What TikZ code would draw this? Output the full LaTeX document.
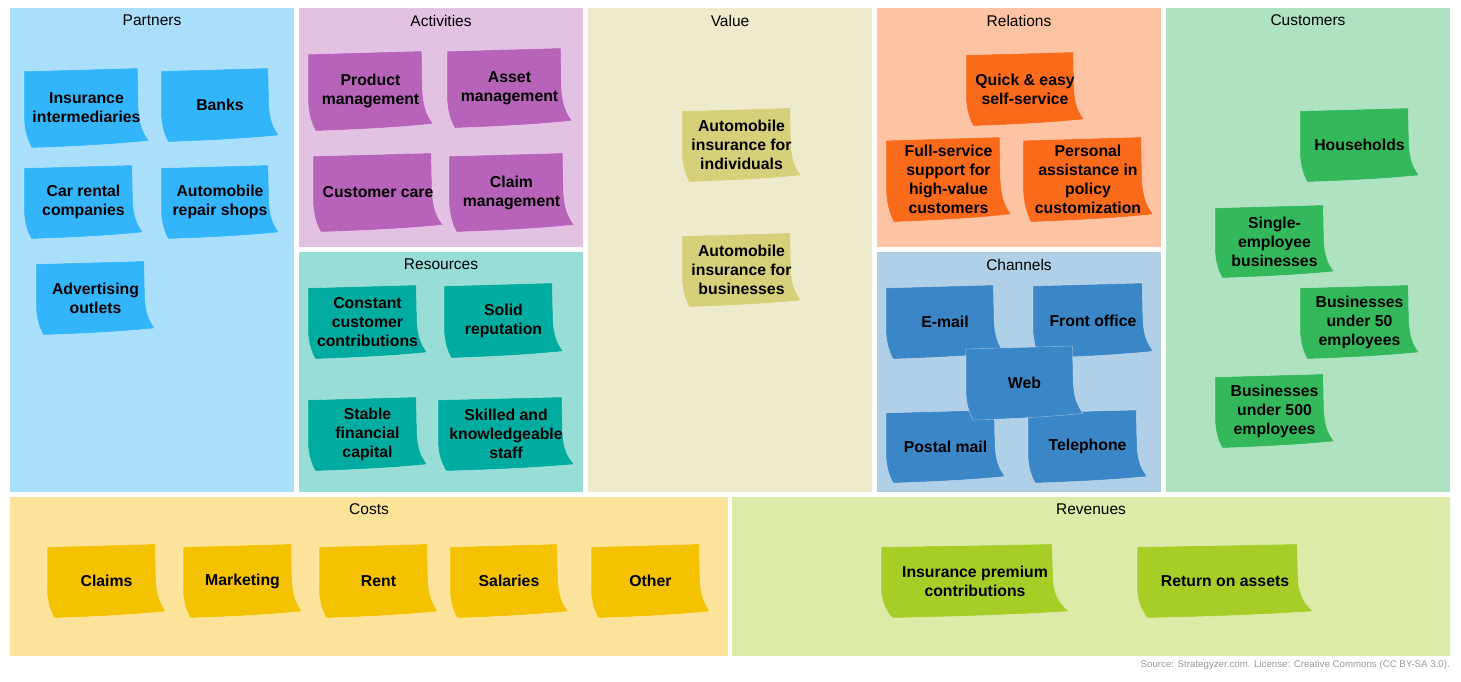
\documentclass[tikz,border=0pt]{standalone}
\usepackage{fontspec}
\setmainfont{Liberation Sans}
\definecolor{pA}{HTML}{AADFFB}\definecolor{nA}{HTML}{33B5FB}
\definecolor{pB}{HTML}{E3C1E3}\definecolor{nB}{HTML}{B763B9}
\definecolor{pC}{HTML}{99DDD7}\definecolor{nC}{HTML}{00ABA0}
\definecolor{pD}{HTML}{EEEACC}\definecolor{nD}{HTML}{D6D07A}
\definecolor{pE}{HTML}{FDC3A3}\definecolor{nE}{HTML}{F96A1B}
\definecolor{pF}{HTML}{B0D0E8}\definecolor{nF}{HTML}{3A86C7}
\definecolor{pG}{HTML}{AEE2C1}\definecolor{nG}{HTML}{33B85C}
\definecolor{pH}{HTML}{FBE49A}\definecolor{nH}{HTML}{F4C200}
\definecolor{pI}{HTML}{DCEBA8}\definecolor{nI}{HTML}{A6CE27}
\tikzset{
  ptitle/.style={font=\fontsize{15.5}{17}\selectfont, inner sep=0pt},
  notetext/.style={font=\fontsize{15.8}{19}\selectfont\bfseries, align=center, inner sep=0pt},
  noteshape/.style={draw=white, draw opacity=0.35, line width=0.6pt},
  srcnote/.style={font=\fontsize{9.7}{11}\selectfont, text=black!40, inner sep=0pt, anchor=east},
}
\newcommand\stickynote[7]{%
  \begin{scope}[shift={(#3,#4)}, xscale={#5-#3}, yscale={#6-#4}]
    \path[noteshape, fill=#2] (0,0.04) -- (0.91,0) -- (0.915,0.45)
      .. controls (0.92,0.7) and (0.95,0.8) .. (1,0.91)
      .. controls (0.7,0.96) and (0.35,0.985) .. (0.06,1)
      .. controls (0.02,0.88) and (0,0.75) .. (0,0.6) -- cycle;
  \end{scope}
  \node[notetext] (#1) at ({(#3+#5)/2},{(#4+#6)/2}) {#7};
}
\begin{document}
\begin{tikzpicture}[x=1pt,y=-1pt]
\useasboundingbox[fill=white] (0,0) rectangle (1461,681);
% panels
\fill[pA] (10,8) rectangle (294,492);
\fill[pB] (299,8) rectangle (583,247);
\fill[pC] (299,252) rectangle (583,492);
\fill[pD] (588,8) rectangle (872,492);
\fill[pE] (877,8) rectangle (1161,247);
\fill[pF] (877,252) rectangle (1161,492);
\fill[pG] (1166,8) rectangle (1450,492);
\fill[pH] (10,497) rectangle (728,656);
\fill[pI] (732,497) rectangle (1450,656);
% titles
\node[ptitle] (tPartners) at (152,20.5) {Partners};
\node[ptitle] (tActivities) at (441,20.5) {Activities};
\node[ptitle] (tValue) at (730,20.5) {Value};
\node[ptitle] (tRelations) at (1019,20.5) {Relations};
\node[ptitle] (tCustomers) at (1308,20.5) {Customers};
\node[ptitle] (tResources) at (441,264.5) {Resources};
\node[ptitle] (tChannels) at (1019,264.5) {Channels};
\node[ptitle] (tCosts) at (369,509.5) {Costs};
\node[ptitle] (tRevenues) at (1091,509.5) {Revenues};
% partners
\stickynote{pa1}{nA}{24}{68}{149}{148}{Insurance\\intermediaries}
\stickynote{pa2}{nA}{161}{68}{279}{142}{Banks}
\stickynote{pa3}{nA}{24}{165}{143}{239}{Car rental\\companies}
\stickynote{pa4}{nA}{161}{165}{279}{239}{Automobile\\repair shops}
\stickynote{pa5}{nA}{36}{261}{155}{335}{Advertising\\outlets}
% activities
\stickynote{ac1}{nB}{308}{51}{433}{131}{Product\\management}
\stickynote{ac2}{nB}{447}{48}{572}{128}{Asset\\management}
\stickynote{ac3}{nB}{313}{153}{443}{232}{Customer care}
\stickynote{ac4}{nB}{449}{153}{574}{232}{Claim\\management}
% resources
\stickynote{re1}{nC}{308}{285}{427}{359}{Constant\\customer\\contributions}
\stickynote{re2}{nC}{444}{283}{563}{358}{Solid\\reputation}
\stickynote{re3}{nC}{308}{397}{427}{471}{Stable\\financial\\capital}
\stickynote{re4}{nC}{438}{397}{574}{471}{Skilled and\\knowledgeable\\staff}
% value
\stickynote{va1}{nD}{682}{108}{801}{182}{Automobile\\insurance for\\individuals}
\stickynote{va2}{nD}{682}{233}{801}{307}{Automobile\\insurance for\\businesses}
% relations
\stickynote{rl1}{nE}{966}{52}{1084}{126}{Quick \& easy\\self-service}
\stickynote{rl2}{nE}{886}{137}{1011}{222}{Full-service\\support for\\high-value\\customers}
\stickynote{rl3}{nE}{1023}{137}{1153}{222}{Personal\\assistance in\\policy\\customization}
% channels
\stickynote{ch1}{nF}{886}{285}{1004}{359}{E-mail}
\stickynote{ch2}{nF}{1033}{283}{1153}{358}{Front office}
\stickynote{ch4}{nF}{886}{410}{1005}{483}{Postal mail}
\stickynote{ch5}{nF}{1028}{410}{1147}{483}{Telephone}
\stickynote{ch3}{nF}{966}{346}{1083}{420}{Web}
% customers
\stickynote{cu1}{nG}{1300}{108}{1419}{182}{Households}
\stickynote{cu2}{nG}{1215}{205}{1334}{278}{Single-\\employee\\businesses}
\stickynote{cu3}{nG}{1300}{285}{1419}{359}{Businesses\\under 50\\employees}
\stickynote{cu4}{nG}{1215}{374}{1334}{448}{Businesses\\under 500\\employees}
% costs
\stickynote{co1}{nH}{47}{544}{166}{618}{Claims}
\stickynote{co2}{nH}{183}{544}{302}{618}{Marketing}
\stickynote{co3}{nH}{319}{544}{438}{618}{Rent}
\stickynote{co4}{nH}{450}{544}{568}{618}{Salaries}
\stickynote{co5}{nH}{591}{544}{710}{618}{Other}
% revenues
\stickynote{rv1}{nI}{881}{544}{1069}{618}{Insurance premium\\contributions}
\stickynote{rv2}{nI}{1137}{544}{1313}{618}{Return on assets}
% source
\node[srcnote] (src) at (1450,665) {Source: Strategyzer.com. License: Creative Commons (CC BY-SA 3.0).};
\end{tikzpicture}
\end{document}
